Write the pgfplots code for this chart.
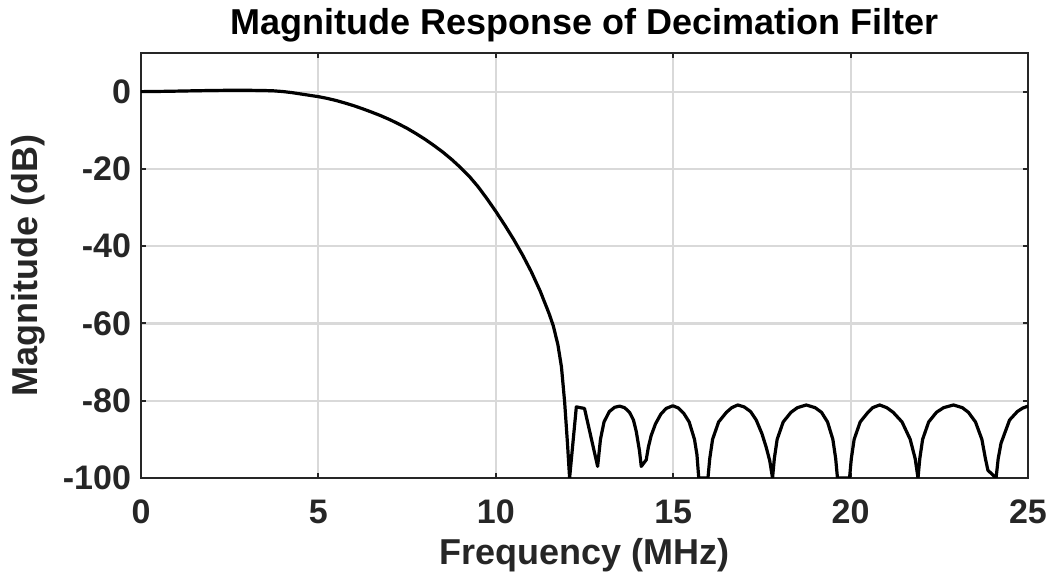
\documentclass[border=0pt]{standalone}
\usepackage{fontspec}
\setmainfont{Liberation Sans}
\usepackage{pgfplots}
\pgfplotsset{compat=1.18}
\begin{document}
\begin{tikzpicture}
\useasboundingbox (-70.5pt,-49.5pt) rectangle (457pt,239pt);
\begin{axis}[
  at={(0,0)}, anchor=south west,
  scale only axis, width=443.5pt, height=212.5pt,
  xmin=0, xmax=25, ymin=-100, ymax=10,
  xtick={0,5,10,15,20,25}, ytick={-100,-80,-60,-40,-20,0},
  /pgf/number format/assume math mode=true,
  tick align=inside, major tick length=2.5pt,
  tick style={color=black!85, line width=1pt},
  axis line style={color=black!85, line width=1.3pt},
  grid=major, major grid style={color=black!15, line width=1.1pt},
  ticklabel style={font=\fontsize{17}{20}\selectfont\bfseries, text=black!85},
  xticklabel style={yshift=-7.5pt},
  yticklabel style={xshift=-1.5pt},
  title={Magnitude Response of Decimation Filter},
  title style={at={(axis description cs:0.5,1)}, anchor=base, yshift=3pt, font=\fontsize{18}{21}\selectfont\bfseries},
  xlabel={Frequency (MHz)},
  xlabel style={at={(axis description cs:0.5,0)}, anchor=center, yshift=-38.5pt, font=\fontsize{18}{21}\selectfont\bfseries, text=black!85},
  ylabel={Magnitude (dB)},
  ylabel style={at={(axis description cs:-0.1274,0.5)}, anchor=center, font=\fontsize{18}{21}\selectfont\bfseries, text=black!85},
]
\addplot[black, line width=1.6pt, line join=round] coordinates {
(0,0) (0.5,0.05) (1,0.13) (1.5,0.22) (2,0.3) (2.5,0.35) (3,0.35) (3.5,0.28) (3.75,0.2)
(4,0.02) (4.25,-0.25) (4.5,-0.6) (4.75,-0.95) (5,-1.3) (5.25,-1.75) (5.5,-2.3) (5.75,-2.95)
(6,-3.65) (6.25,-4.45) (6.5,-5.3) (6.75,-6.2) (7,-7.2) (7.25,-8.3) (7.5,-9.5) (7.75,-10.85)
(8,-12.3) (8.25,-13.9) (8.5,-15.6) (8.75,-17.5) (9,-19.6) (9.25,-21.9) (9.5,-24.6)
(9.75,-27.7) (10,-31.0) (10.25,-34.5) (10.5,-38.2) (10.75,-42.2) (11,-46.6) (11.25,-51.6)
(11.5,-57.4) (11.62,-60.6) (11.75,-65.5) (11.85,-71.2) (11.94,-80.3) (12.02,-91) (12.08,-100)
(12.27,-81.6) (12.5,-82) (12.87,-97)
(12.95,-90) (13.05,-85.5) (13.2,-82.8) (13.35,-81.7) (13.49,-81.4) (13.63,-81.8) (13.77,-83)
(13.88,-85) (13.96,-88) (14.05,-93) (14.1,-97) (14.24,-95.3) (14.3,-92) (14.38,-89)
(14.5,-86) (14.65,-83.5) (14.8,-82) (14.99,-81.3) (15.15,-81.9) (15.3,-83.3) (15.45,-85.5)
(15.6,-90) (15.67,-94) (15.72,-100)
(15.98,-100) (16.03,-95) (16.11,-90) (16.28,-85.5) (16.5,-83) (16.65,-81.8) (16.82,-81.1)
(17.0,-81.6) (17.18,-82.8) (17.34,-85) (17.5,-88.5) (17.62,-92) (17.72,-95.5) (17.8,-100)
(17.85,-95) (17.93,-90) (18.1,-85.5) (18.32,-83) (18.5,-81.8) (18.75,-81.1) (19.0,-81.8)
(19.18,-83) (19.35,-85.5) (19.5,-90) (19.58,-95) (19.63,-100)
(19.97,-100) (20.02,-95) (20.1,-90) (20.27,-85.5) (20.49,-83) (20.62,-81.8) (20.82,-81.1)
(21.02,-81.8) (21.2,-83) (21.45,-85.5) (21.68,-90) (21.82,-95) (21.9,-100)
(21.95,-95) (22.03,-90) (22.2,-85.5) (22.42,-83) (22.62,-81.8) (22.9,-81.1) (23.15,-81.8)
(23.32,-83) (23.52,-85.5) (23.7,-90) (23.8,-95) (23.87,-98) (24.1,-100)
(24.16,-95) (24.24,-91) (24.48,-85) (24.7,-82.8) (24.85,-81.9) (25,-81.4)
};
\end{axis}
\end{tikzpicture}
\end{document}
